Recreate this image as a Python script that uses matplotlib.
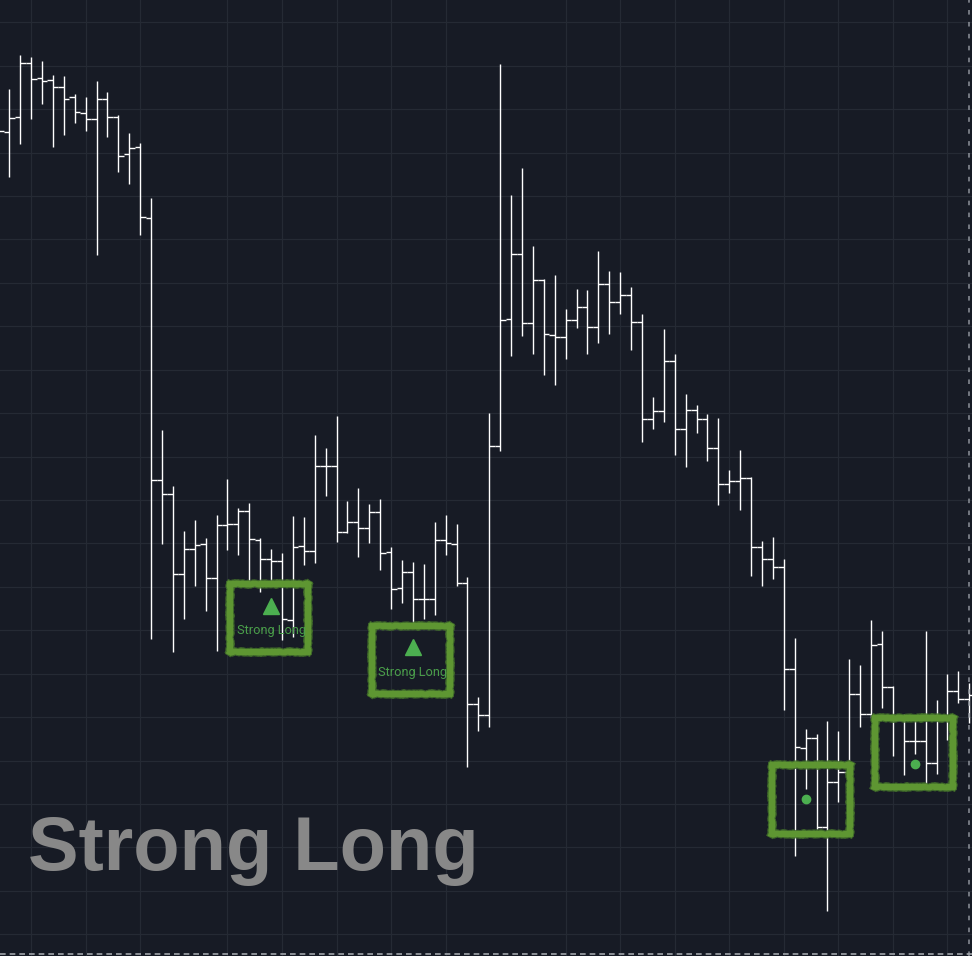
import numpy as np
import matplotlib.pyplot as plt

# OHLC bars, index -1 is the bar cut off at the left edge
bars = np.arange(-1, 89)
opens = [183.1, 182.4, 183.9, 189.3, 187.8, 187.6, 186.9, 185.9, 184.3, 183.7, 185.7,
         183.9, 180.2, 180.9, 173.8, 147.6, 146.2, 138.2, 140.7, 141.2, 137.8,
         143.1, 143.2, 144.5, 141.6, 139.7, 139.5, 133.6, 141.0, 140.5, 149.0,
         149.0, 142.4, 143.4, 142.8, 144.4, 140.4, 136.8, 138.4, 135.7, 135.7,
         141.6, 141.2, 137.3, 125.2, 124.1, 151.0, 163.7, 170.2, 163.3, 167.6,
         162.1, 161.9, 163.6, 164.9, 162.9, 167.2, 165.4, 166.1, 163.4, 153.7,
         154.5, 159.5, 152.7, 154.6, 153.7, 150.8, 147.2, 147.5, 147.8, 140.9,
         139.7, 138.9, 128.7, 120.8, 121.8, 112.9, 117.4, 118.4, 126.2, 124.2,
         131.2, 126.9, 123.6, 121.5, 121.5, 119.3, 123.6, 126.5, 125.7]
highs = [185.6, 186.7, 190.1, 189.9, 189.5, 188.1, 188.0, 186.2, 185.9, 187.5, 186.4,
         184.1, 182.3, 181.3, 175.8, 152.6, 147.0, 142.5, 143.6, 141.8, 144.1,
         147.7, 144.8, 145.3, 141.8, 140.7, 140.3, 144.0, 143.9, 152.1, 150.8,
         154.0, 145.5, 146.8, 145.2, 145.7, 140.9, 139.6, 139.4, 139.2, 143.4,
         144.1, 143.2, 137.9, 125.9, 154.3, 189.2, 176.1, 178.8, 171.0, 167.7,
         168.1, 164.7, 166.7, 166.6, 170.5, 168.5, 168.4, 166.9, 164.2, 155.9,
         162.7, 160.2, 156.2, 155.1, 154.2, 153.8, 148.6, 150.6, 147.9, 141.5,
         141.9, 139.7, 131.8, 122.7, 122.2, 123.5, 122.5, 129.7, 129.1, 133.6,
         132.5, 127.0, 124.2, 123.6, 132.5, 125.6, 128.2, 128.5, 127.3]
lows = [180.6, 177.9, 181.2, 183.7, 185.2, 180.9, 182.1, 183.3, 182.5, 170.1, 181.9,
        178.4, 177.2, 172.1, 131.7, 141.2, 130.4, 133.7, 137.0, 134.5, 130.5,
        140.6, 140.1, 137.3, 136.4, 137.1, 131.6, 131.9, 139.1, 139.3, 146.0,
        141.4, 142.3, 139.9, 141.3, 138.6, 134.7, 135.3, 132.9, 133.7, 134.1,
        140.1, 137.0, 118.9, 122.5, 122.9, 150.5, 160.0, 162.0, 160.2, 158.1,
        157.1, 159.7, 162.8, 160.2, 161.3, 162.2, 164.2, 160.6, 151.4, 152.7,
        153.4, 150.1, 148.9, 152.3, 149.5, 145.1, 146.3, 144.6, 138.0, 137.0,
        137.7, 124.6, 110.0, 116.7, 112.7, 104.5, 115.4, 118.1, 122.9, 123.8,
        124.8, 120.0, 118.1, 120.2, 117.2, 118.2, 121.6, 125.3, 123.3]
closes = [182.5, 183.8, 189.3, 187.7, 187.5, 186.9, 185.7, 184.4, 183.7, 185.7, 183.9,
          180.0, 180.8, 173.9, 147.6, 146.2, 138.2, 140.7, 141.1, 137.8, 143.1,
          143.2, 144.5, 141.7, 139.7, 139.5, 133.7, 140.9, 140.5, 149.0, 149.0,
          142.4, 143.4, 142.8, 144.4, 140.3, 136.7, 138.4, 135.7, 135.7, 141.6,
          141.3, 137.3, 125.2, 124.1, 151.0, 163.6, 170.2, 163.3, 167.6, 162.2,
          161.9, 163.6, 164.9, 162.9, 167.2, 165.4, 166.1, 163.4, 153.7, 154.5,
          159.5, 152.7, 154.6, 153.7, 150.8, 147.2, 147.5, 147.8, 140.9, 139.7,
          138.9, 128.7, 120.9, 121.8, 112.9, 117.4, 118.4, 126.2, 124.2, 131.1,
          126.9, 123.6, 121.5, 121.5, 119.3, 123.6, 126.5, 125.7, 126.1]

opens, highs, lows, closes = map(np.array, (opens, highs, lows, closes))

# signals
strong_long_bars = [24, 37]
dot_bars = [73, 83]
big_label = "Strong Long"

bg = '#171b25'
grid_c = '#252a34'
green_box = '#5e9632'
green_mark = '#4caf50'

fig = plt.figure(figsize=(9.72, 9.56), dpi=100)
fig.patch.set_facecolor(bg)
ax = fig.add_axes([0, 0, 1, 1])
ax.set_facecolor(bg)
ax.set_xlim(-0.853, 88.25)
ax.set_ylim(100.0, 195.6)
for s in ax.spines.values():
    s.set_visible(False)

ax.set_xticks([2, 7, 12, 20, 25, 30, 35, 40, 51, 56, 61, 66, 71, 76, 81, 86])
ax.set_yticks(np.arange(193.37, 99, -4.343))
ax.tick_params(length=0, labelbottom=False, labelleft=False)
ax.grid(color=grid_c, lw=0.9)
ax.set_axisbelow(True)

# ohlc bars
ax.vlines(bars, lows, highs, color='white', lw=1.0, capstyle='butt')
ax.hlines(opens, bars - 0.5, bars, color='white', lw=1.0, capstyle='butt')
ax.hlines(closes, bars, bars + 0.5, color='white', lw=1.0, capstyle='butt')

# boxes round the signals
idx = bars.tolist()
box_w, box_h = 7.15, 6.9


def draw_box(cx, cy):
    x0, x1 = cx - box_w / 2, cx + box_w / 2
    y0, y1 = cy - box_h / 2, cy + box_h / 2
    # each side on its own so the rough edge has no odd corners
    sides = [([x0, x1], [y0, y0]), ([x1, x1], [y0, y1]),
             ([x1, x0], [y1, y1]), ([x0, x0], [y1, y0])]
    for xs, ys in sides:
        ln, = ax.plot(xs, ys, color='#42702a', lw=5.6, alpha=0.85,
                      solid_capstyle='projecting', zorder=4)
        ln.set_sketch_params(0.9, 2, 6)
        ln2, = ax.plot(xs, ys, color=green_box, lw=4.2,
                       solid_capstyle='projecting', zorder=5)
        ln2.set_sketch_params(0.6, 2, 6)


for b in strong_long_bars:
    lo = lows[idx.index(b)]
    ax.plot(b, lo - 2.05, marker='^', ms=12, color=green_mark, ls='none', zorder=6)
    ax.text(b, lo - 4.6, 'Strong Long', ha='center', va='center', fontsize=9.2,
            color='#4a9e4a', family='Roboto', zorder=6)
    draw_box(b - 0.2, lo - 3.3)

for k, b in enumerate(dot_bars):
    lo = lows[idx.index(b)]
    ax.plot(b, lo - 1.05, marker='o', ms=6, color=green_mark, ls='none', zorder=6)
    if k == 0:
        draw_box(b + 0.45, lo - 1.05)
    else:
        draw_box(b - 0.1, lo + 0.1)

# dashed edge lines
ax.axvline(88, color='#8e939b', lw=1.1, ls=(0, (3, 4.8)), zorder=2)
ax.plot([0, 1], [0.0021, 0.0021], transform=ax.transAxes, color='#a0a4aa',
        lw=1.2, ls=(0, (3.4, 2.4)), zorder=2)

fig.text(28 / 972, 86 / 956, big_label, fontsize=54.5, fontweight='bold',
         color='#888888', family='Liberation Sans', va='baseline', ha='left')

fig.savefig('out.png', dpi=100, facecolor=bg)
